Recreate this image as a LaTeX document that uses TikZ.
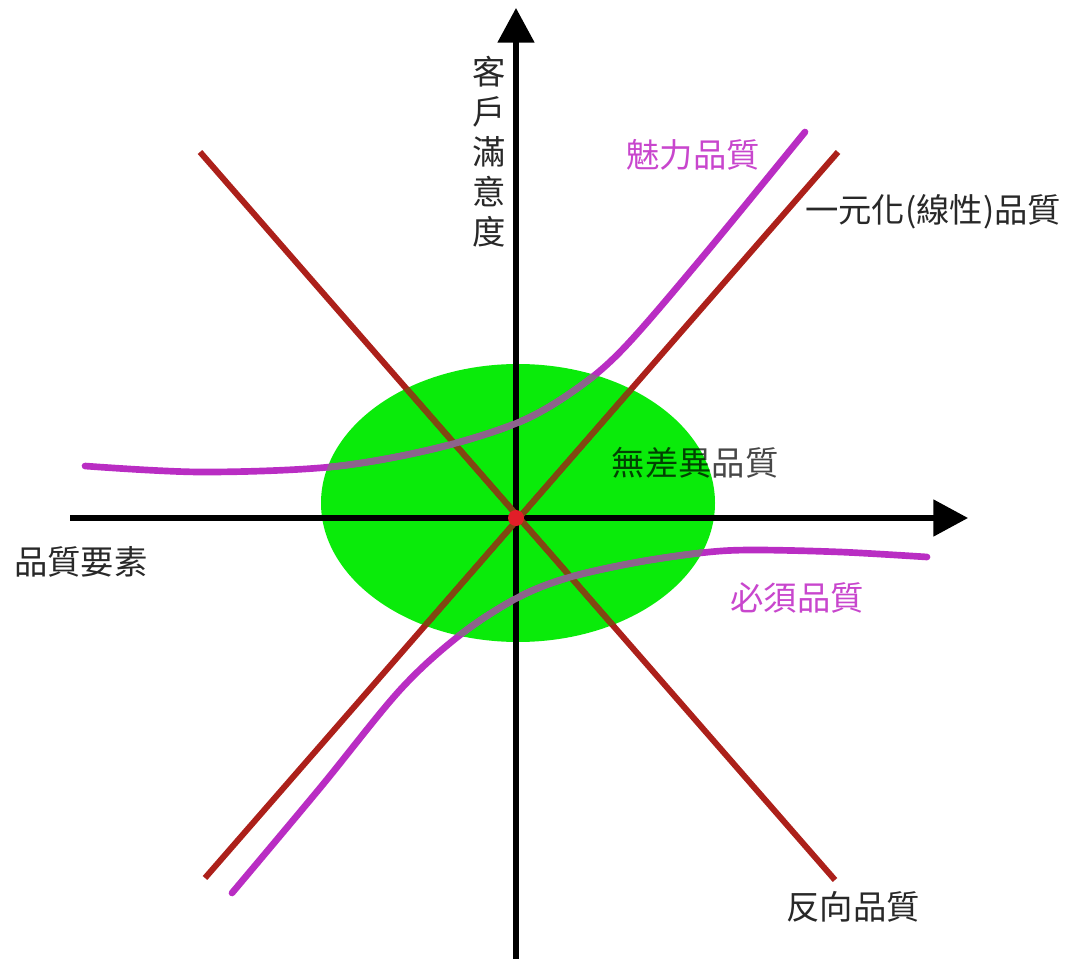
\documentclass[tikz,border=0pt]{standalone}
\usepackage{fontspec}
\newfontfamily\cjk{Noto Sans CJK TC}
\usetikzlibrary{arrows.meta}
\definecolor{kgreen}{RGB}{10,235,10}
\definecolor{lred}{RGB}{172,32,26}
\definecolor{lredin}{RGB}{128,72,18}
\definecolor{lmag}{RGB}{185,45,195}
\definecolor{lmagin}{RGB}{140,100,140}
\definecolor{tmag}{RGB}{200,70,205}
\definecolor{tdark}{RGB}{40,40,40}
\definecolor{dotred}{RGB}{225,30,40}
\tikzset{
  axis/.style={line width=3.8pt,black,-{Triangle[length=26pt,width=27pt]}},
  redline/.style={line width=4.5pt,lred},
  magcurve/.style={line width=5pt,lmag,line cap=round},
  lbl/.style={font=\cjk\fontsize{25}{30}\selectfont,inner sep=0pt,text=tdark},
  maglbl/.style={lbl,text=tmag},
}
\begin{document}
\begin{tikzpicture}[x=0.75pt,y=-0.75pt]
\useasboundingbox (0,0) rectangle (1075,959);
% zone of indifference
\fill[kgreen] (518,503) ellipse [x radius=197, y radius=139];
% axes
\coordinate (xl) at (70,518);
\coordinate (xr) at (968,518);
\coordinate (yb) at (516,959);
\coordinate (yt) at (516,8);
\draw[axis] (xl) -- (xr);
\draw[axis] (yb) -- (yt);
% red lines
\coordinate (r1a) at (200,152);
\coordinate (r1b) at (835,880);
\coordinate (r2a) at (205,878);
\coordinate (r2b) at (838,152);
\draw[redline] (r1a) -- (r1b);
\draw[redline] (r2a) -- (r2b);
% magenta curves
\def\upper{(85,466) (200,472) (330,467) (433,449) (517,423) (572,392) (622,350) (700,260) (805,132)}
\def\lower{(232,893) (320,788) (400,690) (460,635) (517,598) (567,578) (633,563) (700,553) (750,550) (840,552) (927,557)}
\draw[magcurve] plot[smooth,tension=0.55] coordinates {\upper};
\draw[magcurve] plot[smooth,tension=0.55] coordinates {\lower};
% parts inside the green ellipse
\begin{scope}
\clip (518,503) ellipse [x radius=197, y radius=139];
\draw[line width=3.8pt,black] (xl) -- (xr);
\draw[line width=3.8pt,black] (yb) -- (yt);
\draw[redline,lredin] (r1a) -- (r1b);
\draw[redline,lredin] (r2a) -- (r2b);
\draw[magcurve,lmagin] plot[smooth,tension=0.55] coordinates {\upper};
\draw[magcurve,lmagin] plot[smooth,tension=0.55] coordinates {\lower};
\end{scope}
\fill[dotred] (516,518) circle [radius=8];
% labels
\node[lbl,align=center,font=\cjk\fontsize{25}{30}\selectfont] (ylab) at (489,152) {客\\戶\\滿\\意\\度};
\node[maglbl] (charm) at (693,155) {魅力品質};
\node[lbl] (linear) at (933,212) {一元化(線性)品質};
\node[lbl,text=black,text opacity=0.72] (indiff) at (695,463) {無差異品質};
\node[lbl] (xlab) at (81,562) {品質要素};
\node[maglbl] (must) at (797,598) {必須品質};
\node[lbl] (rev) at (853,907) {反向品質};
\end{tikzpicture}
\end{document}
